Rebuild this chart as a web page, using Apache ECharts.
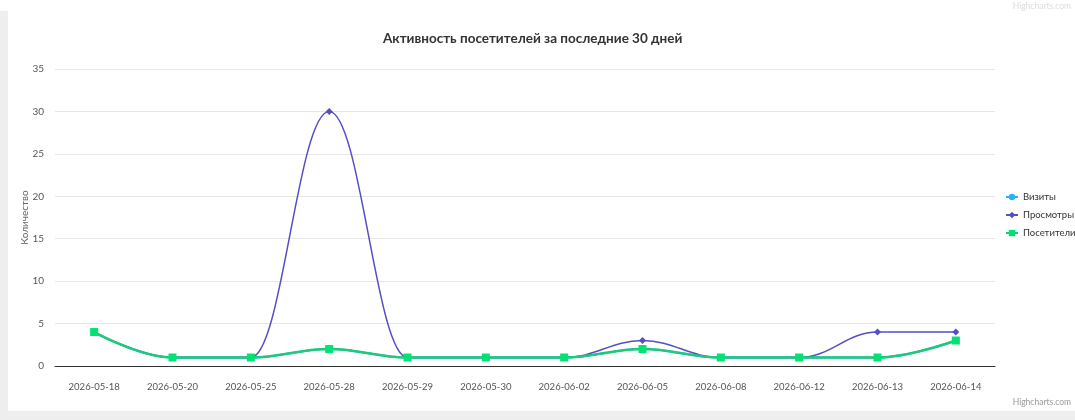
<!DOCTYPE html>
<html>
<head>
<meta charset="utf-8">
<script src="https://cdn.jsdelivr.net/npm/echarts@6/dist/echarts.min.js"></script>
<style>
  html, body { margin: 0; padding: 0; background: #fff; }
  .frame { position: relative; width: 1075px; height: 420px; overflow: hidden; }
  .strip-left { position: absolute; left: 0; top: 11px; width: 8px; height: 409px; background: #eeeeee; }
  .strip-bottom { position: absolute; left: 0; top: 411px; width: 1075px; height: 9px; background: #eeeeee; }
  #chart { position: absolute; left: 0; top: 0; width: 1075px; height: 420px; }
</style>
</head>
<body>
<div class="frame">
  <div class="strip-left"></div>
  <div class="strip-bottom"></div>
  <div id="chart"></div>
</div>
<script>
  // даты (категории)
  const days = ['2026-05-18', '2026-05-20', '2026-05-25', '2026-05-28', '2026-05-29', '2026-05-30',
    '2026-06-02', '2026-06-05', '2026-06-08', '2026-06-12', '2026-06-13', '2026-06-14'];
  // значения серий
  const visits = [4, 1, 1, 2, 1, 1, 1, 2, 1, 1, 1, 3];
  const views = [4, 1, 1, 30, 1, 1, 1, 3, 1, 1, 4, 4];
  const visitors = [4, 1, 1, 2, 1, 1, 1, 2, 1, 1, 1, 3];
  const yTicks = [0, 5, 10, 15, 20, 25, 30, 35];

  const font = 'Lato, "Open Sans", sans-serif';
  const chart = echarts.init(document.getElementById('chart'));

  // сглаживание как у spline
  const spline = { smooth: 0.4, smoothMonotone: 'x' };

  chart.setOption({
    animation: false,
    textStyle: { fontFamily: font },
    title: {
      text: 'Активность посетителей за последние 30 дней',
      left: 378,
      top: 27,
      textStyle: { fontSize: 13.5, fontWeight: 'bold', color: '#333', fontFamily: font }
    },
    legend: {
      orient: 'vertical',
      left: 1000,
      top: 187,
      itemWidth: 12,
      itemHeight: 8,
      itemGap: 8,
      textStyle: { fontSize: 9.5, color: '#333', fontFamily: font },
      data: ['Визиты', 'Просмотры', 'Посетители']
    },
    grid: { left: 55, right: 80, top: 69, bottom: 54 },
    xAxis: {
      type: 'category',
      data: days,
      boundaryGap: true,
      axisLine: { lineStyle: { color: '#333', width: 1 } },
      axisTick: { show: false },
      axisLabel: { color: '#555', fontSize: 9.5, margin: 16, fontFamily: font }
    },
    yAxis: {
      type: 'value',
      min: yTicks[0],
      max: yTicks[yTicks.length - 1],
      interval: 5,
      name: 'Количество',
      nameLocation: 'middle',
      nameGap: 25,
      nameMoveOverlap: false,
      nameTextStyle: { color: '#666', fontSize: 10, fontFamily: font },
      axisLabel: { color: '#555', fontSize: 10, margin: 11, fontFamily: font },
      splitLine: { lineStyle: { color: '#e6e6e6' } }
    },
    series: [
      Object.assign({
        name: 'Визиты', type: 'line', data: visits,
        symbol: 'circle', symbolSize: 7,
        itemStyle: { color: '#2caffe' }, lineStyle: { width: 2 }
      }, spline),
      Object.assign({
        name: 'Просмотры', type: 'line', data: views,
        symbol: 'diamond', symbolSize: 7,
        itemStyle: { color: '#544fc5' }, lineStyle: { width: 1.5 }
      }, spline),
      Object.assign({
        name: 'Посетители', type: 'line', data: visitors,
        symbol: 'rect', symbolSize: 8,
        itemStyle: { color: '#00e272' }, lineStyle: { width: 2.5, color: '#1fc97a' }
      }, spline)
    ],
    graphic: [
      { type: 'text', right: 4, top: 398, style: { text: 'Highcharts.com', fill: '#999', fontSize: 8.5, fontFamily: font } },
      { type: 'text', right: 4, top: 2, style: { text: 'Highcharts.com', fill: '#ddd', fontSize: 8.5, fontFamily: font } }
    ]
  });
</script>
</body>
</html>
